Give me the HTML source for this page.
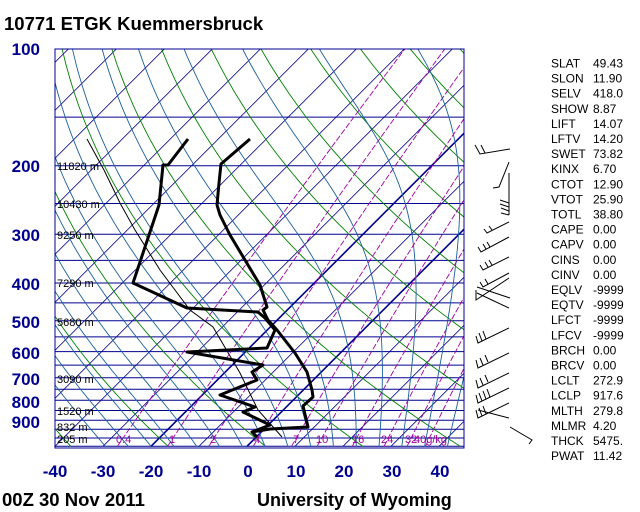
<!DOCTYPE html>
<html><head><meta charset="utf-8"><style>
html,body{margin:0;padding:0;background:#fff;}
svg{display:block;}
</style></head><body>
<svg id="s" width="640" height="512" xmlns="http://www.w3.org/2000/svg" font-family="Liberation Sans, sans-serif">
<defs><clipPath id="c"><rect x="55" y="49" width="409" height="399"/></clipPath></defs>
<g id="grid" clip-path="url(#c)"></g>
<rect x="55" y="49" width="409" height="399" fill="none" stroke="#000090" stroke-width="1"/>
<g font-size="11" fill="#000">
<text x="57" y="170">11820 m</text><text x="57" y="208">10430 m</text><text x="57" y="239">9250 m</text>
<text x="57" y="287">7290 m</text><text x="57" y="326">5680 m</text><text x="57" y="383">3090 m</text>
<text x="57" y="415">1520 m</text><text x="57" y="431">832 m</text><text x="57" y="443">205 m</text>
</g>
<g font-size="11" fill="#a000a0">
<text x="116" y="443">0.4</text><text x="169" y="443">1</text><text x="210" y="443">2</text><text x="254" y="443">4</text>
<text x="293" y="443">7</text><text x="316" y="443">10</text><text x="352" y="443">16</text><text x="381" y="443">24</text><text x="405" y="443">32</text><text x="414" y="443">40g/kg</text>
</g>
<g stroke="#000" stroke-width="1" fill="none">
<polyline points="87,139 104,170 120,203 135,230 160,270 190,310 213,327 240,373 258,410 282,437"/>
</g>
<g stroke="#000" stroke-width="3" fill="none" stroke-linejoin="round">
<polyline points="250,139 221,164 219,183 217,205 220,215 230,235 245,260 260,285 267,307 263,310 268,320 277,330 295,353 307,372 312,390 313,397 303,406 308,427 270,429 252,432 257,437"/>
<polyline points="188,139 168,165 163,165 159,205 133,283 187,308 258,312 265,318 275,330 267,348 187,352 263,365 252,372 257,380 220,395 255,407 243,412 270,425 252,432 257,437"/>
</g>
<g stroke="#000" stroke-width="1" fill="none">
<path d="M510,149 L480,154 L475,145 M485,153 L481,145"/>
<path d="M509,162 L499,187 L493,188"/>
<path d="M509,173 L509,215 M509,203 L500,200 M509,207 L500,204 M509,211 L501,208 M509,215 L501,213"/>
<path d="M509,222 L487,233 L484,229 M492,230 L489,226"/>
<path d="M509,237 L481,252 L478,247 M486,249 L483,244 M490,247 L487,242"/>
<path d="M509,257 L483,270 L480,265 M488,267 L485,262 M492,265 L489,260"/>
<path d="M509,273 L483,287 L480,282 M488,284 L485,279"/>
<path d="M477,287 L510,298 M477,293 L509,308 M509,278 L476,300 L476,290"/>
<path d="M509,328 L478,343 L476,336 M482,341 L479,333 M486,339 L483,331"/>
<path d="M509,353 L478,368 L476,360 M483,365 L480,358 M488,362 L485,355"/>
<path d="M509,373 L478,388 L476,380 M483,385 L480,378 M488,382 L485,375"/>
<path d="M509,388 L478,403 L476,395 M482,401 L479,393 M486,399 L483,391 M490,397 L487,389"/>
<path d="M509,403 L478,418 L476,410 M482,416 L479,408 M486,414 L483,406 M478,410 L509,418"/>
<path d="M510,427 L532,440 L529,444"/>
</g>
<text x="4" y="30" font-size="18.5" font-weight="bold" fill="#000">10771 ETGK Kuemmersbruck</text>
<g font-size="17" font-weight="bold" fill="#000090" text-anchor="end">
<text x="40" y="55">100</text><text x="40" y="172">200</text><text x="40" y="241">300</text><text x="40" y="290">400</text>
<text x="40" y="328">500</text><text x="40" y="359">600</text><text x="40" y="385">700</text><text x="40" y="408">800</text><text x="40" y="428">900</text>
</g>
<g font-size="17" font-weight="bold" fill="#000090" text-anchor="middle">
<text x="55" y="477">-40</text><text x="103" y="477">-30</text><text x="151" y="477">-20</text><text x="199" y="477">-10</text>
<text x="248" y="477">0</text><text x="296" y="477">10</text><text x="344" y="477">20</text><text x="392" y="477">30</text><text x="440" y="477">40</text>
</g>
<text x="2" y="506" font-size="18.5" font-weight="bold" fill="#000">00Z 30 Nov 2011</text>
<text x="257" y="506" font-size="18" font-weight="bold" fill="#000">University of Wyoming</text>
<g id="idx" font-size="12" fill="#000"></g>
</svg>
<script>
(function(){
var NS="http://www.w3.org/2000/svg";
function Y(p){return 48.5+389.5*Math.log10(p/100);}
var yb=Y(1050);
function X(T,p){return 247+4.8*T+(yb-Y(p));}
var g=document.getElementById('grid');
function line(pts,col,w,dash){var e=document.createElementNS(NS,'polyline');e.setAttribute('points',pts.map(function(a){return a[0].toFixed(1)+','+a[1].toFixed(1)}).join(' '));e.setAttribute('fill','none');e.setAttribute('stroke',col);e.setAttribute('stroke-width',w);if(dash)e.setAttribute('stroke-dasharray',dash);g.appendChild(e);}
for(var p=100;p<=1050;p+=50){line([[55,Y(p)],[464,Y(p)]],'#000090',1);}
for(var T=-170;T<=50;T+=10){line([[X(T,1050),yb],[X(T,100),Y(100)]],'#000090',(T==0||T==-20)?1.6:0.8);}
for(var th=-60;th<=220;th+=20){var pts=[];for(var p=100;p<=1050;p+=10){var Tk=(th+273.15)*Math.pow(p/1000,0.286);pts.push([X(Tk-273.15,p),Y(p)]);}line(pts,'#008000',0.9);}
var ws=[0.4,1,2,4,7,10,16,24,32,40];
ws.forEach(function(w){var pts=[];for(var p=1050;p>=100;p-=25){var e=w*p/(622+w);var l=Math.log(e/6.112);var Td=243.5*l/(17.67-l);pts.push([X(Td,p),Y(p)]);}line(pts,'#a000a0',0.9,'6,2');});
function es(T){return 6.112*Math.exp(17.67*T/(T+243.5));}
for(var k=-10;k<=5;k++){var T=18+4.75*k;var Tk=T+273.15;var pts=[];var p=1050;pts.push([X(T,p),Y(p)]);
while(p>100){var Tc=Tk-273.15;var e=es(Tc);var rs=0.622*e/(p-e);var Lv=2.5e6,Rd=287,cp=1005;
var dTdp=(Rd*Tk+Lv*rs)/(p*(cp+Lv*Lv*rs*0.622/(Rd*Tk*Tk)));var dp=-5;Tk+=dTdp*dp;p+=dp;pts.push([X(Tk-273.15,p),Y(p)]);}
line(pts,'#1a5fa0',0.9);}
var d=[["SLAT","49.43"],["SLON","11.90"],["SELV","418.0"],["SHOW","8.87"],["LIFT","14.07"],["LFTV","14.20"],["SWET","73.82"],["KINX","6.70"],["CTOT","12.90"],["VTOT","25.90"],["TOTL","38.80"],["CAPE","0.00"],["CAPV","0.00"],["CINS","0.00"],["CINV","0.00"],["EQLV","-9999"],["EQTV","-9999"],["LFCT","-9999"],["LFCV","-9999"],["BRCH","0.00"],["BRCV","0.00"],["LCLT","272.9"],["LCLP","917.6"],["MLTH","279.8"],["MLMR","4.20"],["THCK","5475."],["PWAT","11.42"]];
var gi=document.getElementById('idx');
d.forEach(function(r,i){var y=67.5+i*15.1;var a=document.createElementNS(NS,'text');a.setAttribute('x',551);a.setAttribute('y',y.toFixed(1));a.textContent=r[0];gi.appendChild(a);var b=document.createElementNS(NS,'text');b.setAttribute('x',593);b.setAttribute('y',y.toFixed(1));b.textContent=r[1];gi.appendChild(b);});
})();
</script>
</body></html>
